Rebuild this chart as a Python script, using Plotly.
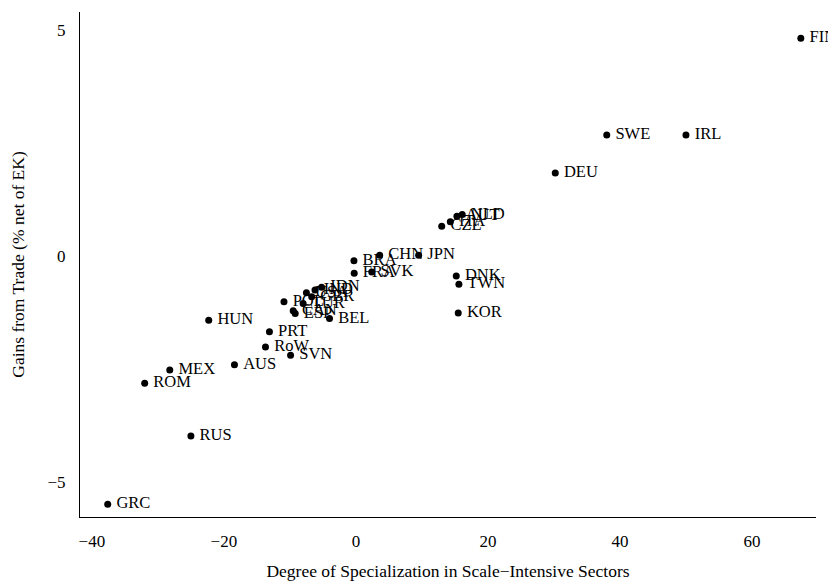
import plotly.graph_objects as go

countries = ["FIN", "SWE", "IRL", "DEU", "CZE", "ITA", "AUT", "NLD",
             "BRA", "FRA", "CHN", "JPN", "SVK", "DNK", "TWN", "KOR",
             "BEL", "HUN", "PRT", "RoW", "SVN", "AUS", "MEX", "ROM",
             "RUS", "GRC", "POL", "USA", "IND", "IDN", "GBR", "TUR",
             "CAN", "ESP"]
specialization = [67.4, 38.0, 50.0, 30.2, 13.0, 14.3, 15.3, 16.1,
                  -0.3, -0.26, 3.6, 9.5, 2.4, 15.2, 15.6, 15.5,
                  -4.0, -22.3, -13.1, -13.7, -9.9, -18.4, -28.2, -32.0,
                  -25.0, -37.6, -10.9, -7.5, -6.2, -5.2, -6.7, -8.0,
                  -9.5, -9.2]
gains = [4.82, 2.68, 2.68, 1.84, 0.66, 0.76, 0.88, 0.92,
         -0.10, -0.38, 0.02, 0.02, -0.35, -0.44, -0.62, -1.26,
         -1.38, -1.42, -1.67, -2.01, -2.19, -2.40, -2.52, -2.81,
         -3.98, -5.49, -1.01, -0.81, -0.75, -0.69, -0.90, -1.05,
         -1.21, -1.27]

x_ticks = [-40, -20, 0, 20, 40, 60]
y_ticks = [-5, 0, 5]

font_family = "Liberation Serif, Times New Roman, serif"

fig = go.Figure(go.Scatter(
    x=specialization, y=gains, mode="markers+text",
    text=countries, texttemplate="\u2009%{text}", textposition="middle right",
    textfont=dict(family=font_family, size=16.5, color="black"),
    marker=dict(color="black", size=7),
    cliponaxis=False, hoverinfo="skip",
))

fig.update_layout(
    width=836, height=581,
    margin=dict(l=72, r=28, t=4, b=72),
    paper_bgcolor="white", plot_bgcolor="white",
    showlegend=False,
    font=dict(family=font_family, size=17, color="black"),
)
fig.update_xaxes(
    range=[-41.8, 69.7], tickvals=x_ticks, showgrid=False, zeroline=False,
    showline=True, linecolor="black", linewidth=1, ticks="",
    tickfont=dict(size=17), ticklabelstandoff=9, automargin=False,
    title=dict(text="Degree of Specialization in Scale\u2212Intensive Sectors",
               font=dict(size=17.5), standoff=14),
)
fig.update_yaxes(
    range=[-5.77, 5.4], tickvals=y_ticks, showgrid=False, zeroline=False,
    showline=True, linecolor="black", linewidth=1, ticks="",
    tickfont=dict(size=17), ticklabelstandoff=10, automargin=False,
    title=dict(text="Gains from Trade (% net of EK)",
               font=dict(size=17.5), standoff=20),
)

fig.write_html("out.html")
